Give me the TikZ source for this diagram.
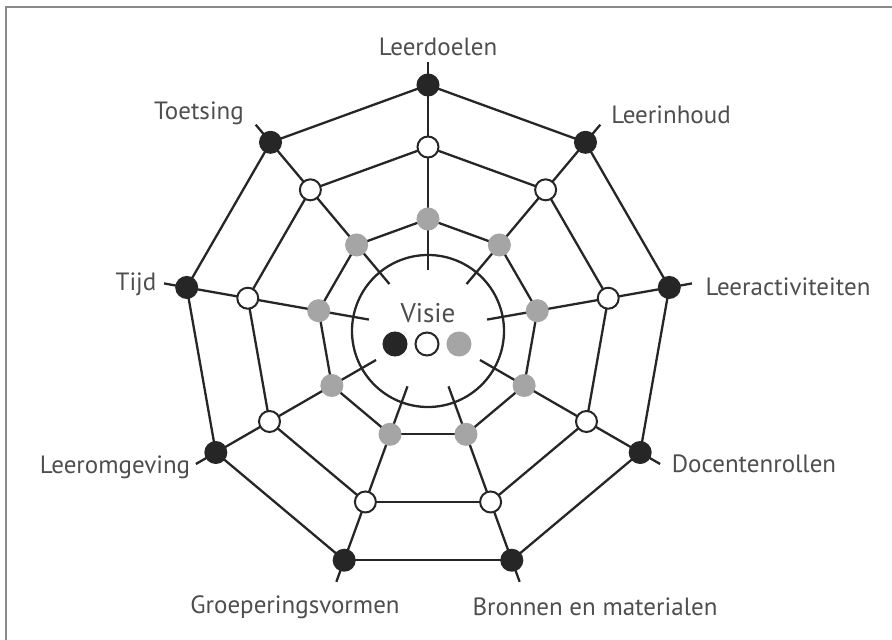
\documentclass[tikz,border=0pt]{standalone}
\usepackage{fontspec}
\setmainfont{PT Sans}
\usetikzlibrary{backgrounds}
\definecolor{ink}{HTML}{262626}
\definecolor{labelgrey}{HTML}{4E4E4E}
\definecolor{dotgrey}{HTML}{A5A5A5}
\definecolor{framegrey}{HTML}{8A8A8A}
\tikzset{
  web/.style={
    draw=ink,
    line width=1.15pt
  },
  dot/.style={
    circle,
    inner sep=0pt,
    minimum size=10.5pt,
    draw=ink,
    line width=1pt
  },
  outerdot/.style={
    dot,
    fill=ink
  },
  middot/.style={
    dot,
    fill=white
  },
  innerdot/.style={
    dot,
    fill=dotgrey,
    draw=dotgrey
  },
  topic/.style={
    text=labelgrey,
    font=\fontsize{12.5}{14}\selectfont,
    inner sep=0pt
  }
}

\begin{document}
\begin{tikzpicture}[x=0.5pt, y=0.5pt]
  \useasboundingbox (-428,-310) rectangle (464,330);
  \draw[framegrey, line width=1pt] (-421.5,-310) -- (-421.5,322.5) -- (464,322.5);

  % three rings of dots, nine spokes
  \foreach \i in {0,...,8} {
    \pgfmathsetmacro\ang{90-40*\i}
    \node[outerdot] (b\i) at (\ang:245) {};
    \node[middot] (w\i) at (\ang:183) {};
    \node[innerdot] (g\i) at (\ang:111) {};
    \coordinate (tip\i) at (\ang:268);
    \coordinate (end\i) at (\ang:60);
  }

  \node[circle, web, minimum size=76pt, inner sep=0pt] (hub) at (0,-1) {};
  \node[topic, font=\fontsize{13.5}{15}\selectfont] (visie) at (0,17) {Visie};
  \node[outerdot, minimum size=11.5pt] (vb) at (-33,-14) {};
  \node[middot, minimum size=11.5pt] (vw) at (-1,-14) {};
  \node[innerdot, minimum size=11.5pt] (vg) at (31,-14) {};

  \begin{scope}[on background layer]
    \foreach \i [evaluate=\i as \j using {int(mod(\i+1,9))}] in {0,...,8} {
      \draw[web] (tip\i) -- (end\i);
      \draw[web] (b\i.center) -- (b\j.center);
      \draw[web] (w\i.center) -- (w\j.center);
      \draw[web] (g\i.center) -- (g\j.center);
    }
  \end{scope}

  \node[topic] (leerdoelen) at (10,283) {Leerdoelen};
  \node[topic] (leerinhoud) at (243,215) {Leerinhoud};
  \node[topic] (activiteiten) at (360,43) {Leeractiviteiten};
  \node[topic] (docenten) at (326,-134) {Docentenrollen};
  \node[topic] (bronnen) at (167,-277) {Bronnen en materialen};
  \node[topic] (groepering) at (-133,-277) {Groeperingsvormen};
  \node[topic] (omgeving) at (-313,-137) {Leeromgeving};
  \node[topic] (tijd) at (-292,46) {Tijd};
  \node[topic] (toetsing) at (-229,217) {Toetsing};
\end{tikzpicture}
\end{document}
